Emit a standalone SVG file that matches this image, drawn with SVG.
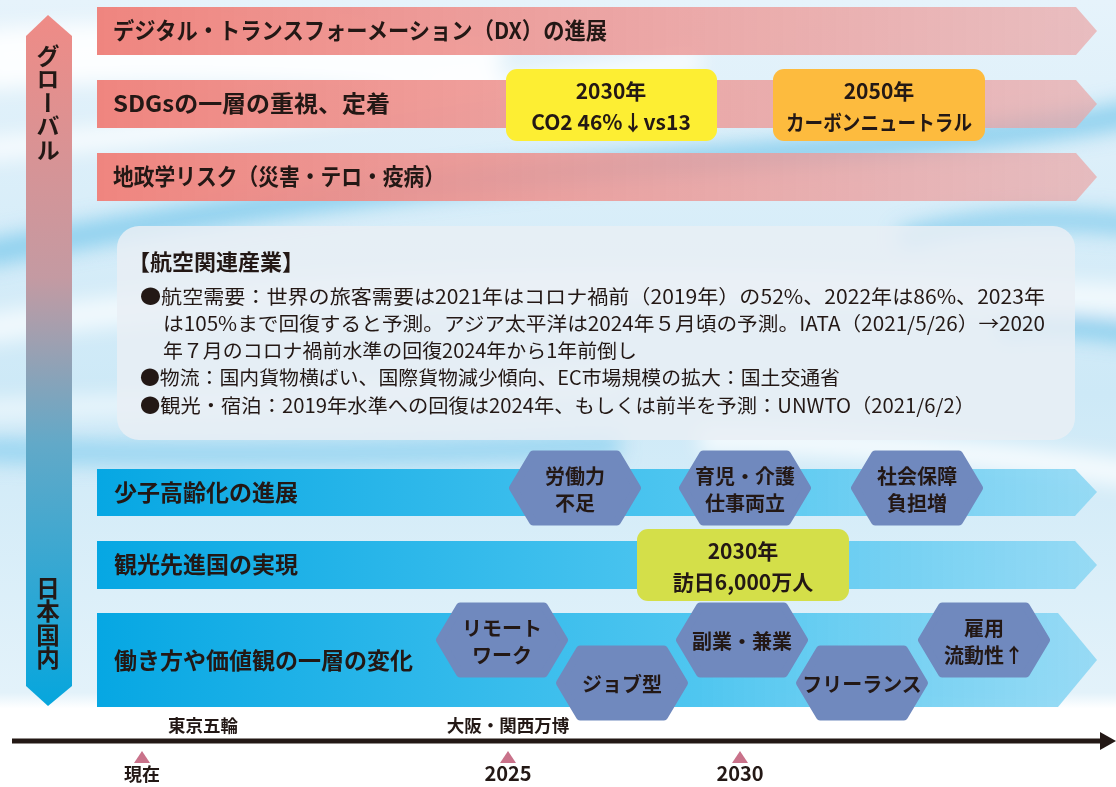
<svg xmlns="http://www.w3.org/2000/svg" width="1116" height="787" viewBox="0 0 1116 787">
<style>
.t{font-family:"Noto Sans CJK JP","Noto Sans",sans-serif;font-weight:bold;fill:#231815}
.row{font-size:23px}
.hx{font-size:20px;text-anchor:middle;dominant-baseline:central}
.bx{font-size:21px;text-anchor:middle;dominant-baseline:central}
.info{font-family:"Noto Sans CJK JP","Noto Sans",sans-serif;font-size:19.5px;fill:#231815}
.hex{fill:#7089be;stroke:#7089be;stroke-width:8;stroke-linejoin:round}
.tri{fill:#c9728a}
.vt{writing-mode:vertical-rl;text-orientation:upright;font-size:23.5px;text-anchor:start}
</style>
<defs>
<linearGradient id="pink" x1="0" x2="1" y1="0" y2="0">
<stop offset="0" stop-color="#ef857f"/>
<stop offset="1" stop-color="#eaa6a6" stop-opacity="0.7"/>
</linearGradient>
<linearGradient id="blue" x1="0" x2="1" y1="0" y2="0">
<stop offset="0" stop-color="#06a7e3"/>
<stop offset="0.6" stop-color="#4fc6f0"/>
<stop offset="1" stop-color="#8ad6f3" stop-opacity="0.85"/>
</linearGradient>
<linearGradient id="vert" x1="0" x2="0" y1="0" y2="1">
<stop offset="0" stop-color="#ef8b86"/>
<stop offset="0.38" stop-color="#c49aa2"/>
<stop offset="0.62" stop-color="#62a9c8"/>
<stop offset="1" stop-color="#06a6dd"/>
</linearGradient>
<linearGradient id="bg" x1="0" x2="0" y1="0" y2="1">
<stop offset="0" stop-color="#e6f3fb"/>
<stop offset="0.5" stop-color="#cde9f7"/>
<stop offset="0.88" stop-color="#e3f2fa"/>
<stop offset="0.9" stop-color="#ffffff"/>
<stop offset="1" stop-color="#ffffff"/>
</linearGradient>
<filter id="blur" x="-20%" y="-50%" width="140%" height="200%"><feGaussianBlur stdDeviation="10"/></filter>
<polygon id="hexp" points="-62,0 -42,-33.5 42,-33.5 62,0 42,33.5 -42,33.5"/>
</defs>

<g id="background">
<rect width="1116" height="787" fill="url(#bg)"/>
<g filter="url(#blur)" fill="none">
<path d="M-20,255 Q300,190 700,160 T1140,110" stroke="#6cc3ea" stroke-width="26" opacity="0.7"/>
<path d="M-20,60 Q200,40 500,70" stroke="#ffffff" stroke-width="60" opacity="0.9"/>
<path d="M-20,150 Q300,120 700,60" stroke="#ffffff" stroke-width="22" opacity="0.8"/>
<path d="M-20,330 Q400,260 1140,300" stroke="#ffffff" stroke-width="30" opacity="0.7"/>
<path d="M900,240 Q1000,210 1140,225" stroke="#6cc3ea" stroke-width="20" opacity="0.7"/>
<path d="M1000,330 Q1060,320 1140,335" stroke="#6cc3ea" stroke-width="18" opacity="0.8"/>
<path d="M-20,450 Q300,460 620,445" stroke="#7ccbee" stroke-width="22" opacity="0.7"/>
<path d="M700,440 Q900,440 1140,475" stroke="#ffffff" stroke-width="26" opacity="0.8"/>
<path d="M-20,410 Q300,400 620,380" stroke="#ffffff" stroke-width="20" opacity="0.6"/>
</g>
<rect x="0" y="708" width="1116" height="79" fill="#ffffff"/>
</g>

<g id="axis-global-domestic">
<polygon points="48,15 72,36 72,686 48,706 26,686 26,36" fill="url(#vert)"/>
<text class="t vt" x="48" y="44">グローバル</text>
<text class="t vt" x="48" y="576">日本国内</text>
</g>

<g id="row-dx">
<polygon points="97,7 1076,7 1097,31 1076,55 97,55" fill="url(#pink)"/>
<text class="t row" x="113" y="39" textLength="494" lengthAdjust="spacingAndGlyphs">デジタル・トランスフォーメーション（DX）の進展</text>
</g>
<g id="row-sdgs">
<polygon points="97,80 1076,80 1097,104 1076,128 97,128" fill="url(#pink)"/>
<text class="t row" x="113" y="112" textLength="277" lengthAdjust="spacingAndGlyphs">SDGsの一層の重視、定着</text>
</g>
<g id="row-geo">
<polygon points="97,153 1076,153 1097,177 1076,201 97,201" fill="url(#pink)"/>
<text class="t row" x="113" y="185" textLength="332" lengthAdjust="spacingAndGlyphs">地政学リスク（災害・テロ・疫病）</text>
</g>

<g id="box-co2">
<rect x="506" y="69" width="211" height="72" rx="11" fill="#fdee33"/>
<text class="t bx" x="611" y="90">2030年</text>
<text class="t bx" x="611" y="121">CO2 46%↓vs13</text>
</g>
<g id="box-carbon">
<rect x="773" y="69" width="212" height="72" rx="11" fill="#fdbb3e"/>
<text class="t bx" x="879" y="90">2050年</text>
<text class="t bx" x="879" y="121" textLength="186" lengthAdjust="spacingAndGlyphs">カーボンニュートラル</text>
</g>

<g id="info-aviation">
<rect x="117" y="226" width="958" height="214" rx="22" fill="#e9eff4" fill-opacity="0.85"/>
<text class="t" x="128" y="270" font-size="22">【航空関連産業】</text>
<text class="info" x="140" y="304" textLength="905" lengthAdjust="spacingAndGlyphs">●航空需要：世界の旅客需要は2021年はコロナ禍前（2019年）の52%、2022年は86%、2023年</text>
<text class="info" x="163" y="331" textLength="882" lengthAdjust="spacingAndGlyphs">は105%まで回復すると予測。アジア太平洋は2024年５月頃の予測。IATA（2021/5/26）→2020</text>
<text class="info" x="163" y="358" textLength="474" lengthAdjust="spacingAndGlyphs">年７月のコロナ禍前水準の回復2024年から1年前倒し</text>
<text class="info" x="140" y="385" textLength="700" lengthAdjust="spacingAndGlyphs">●物流：国内貨物横ばい、国際貨物減少傾向、EC市場規模の拡大：国土交通省</text>
<text class="info" x="140" y="413" textLength="835" lengthAdjust="spacingAndGlyphs">●観光・宿泊：2019年水準への回復は2024年、もしくは前半を予測：UNWTO（2021/6/2）</text>
</g>

<g id="row-aging">
<polygon points="97,469 1075,469 1097,492 1075,516 97,516" fill="url(#blue)"/>
<text class="t row" x="114" y="501">少子高齢化の進展</text>
</g>
<g id="row-tourism">
<polygon points="97,541 1075,541 1097,565 1075,589 97,589" fill="url(#blue)"/>
<text class="t row" x="114" y="573">観光先進国の実現</text>
</g>
<g id="row-work">
<polygon points="97,613 1058,613 1097,660 1058,707 97,707" fill="url(#blue)"/>
<text class="t row" x="114" y="669">働き方や価値観の一層の変化</text>
</g>

<g id="hex-labor">
<use href="#hexp" class="hex" x="575" y="488"/>
<text class="t hx" x="575" y="475">労働力</text>
<text class="t hx" x="575" y="502">不足</text>
</g>
<g id="hex-childcare">
<use href="#hexp" class="hex" x="745" y="488"/>
<text class="t hx" x="745" y="475">育児・介護</text>
<text class="t hx" x="745" y="502">仕事両立</text>
</g>
<g id="hex-social">
<use href="#hexp" class="hex" x="917" y="488"/>
<text class="t hx" x="917" y="475">社会保障</text>
<text class="t hx" x="917" y="502">負担増</text>
</g>

<g id="box-visitors">
<rect x="637" y="529" width="212" height="72" rx="11" fill="#d4df49"/>
<text class="t bx" x="743" y="550">2030年</text>
<text class="t bx" x="743" y="581">訪日6,000万人</text>
</g>

<g id="hex-remote">
<use href="#hexp" class="hex" x="502" y="640"/>
<text class="t hx" x="502" y="627">リモート</text>
<text class="t hx" x="502" y="654">ワーク</text>
</g>
<g id="hex-job">
<use href="#hexp" class="hex" x="622" y="683"/>
<text class="t hx" x="622" y="683">ジョブ型</text>
</g>
<g id="hex-side">
<use href="#hexp" class="hex" x="742" y="640"/>
<text class="t hx" x="742" y="640">副業・兼業</text>
</g>
<g id="hex-freelance">
<use href="#hexp" class="hex" x="862" y="683"/>
<text class="t hx" x="862" y="683">フリーランス</text>
</g>
<g id="hex-employment">
<use href="#hexp" class="hex" x="984" y="640"/>
<text class="t hx" x="984" y="627">雇用</text>
<text class="t hx" x="984" y="654">流動性↑</text>
</g>

<g id="timeline">
<line x1="12" y1="741" x2="1104" y2="741" stroke="#231815" stroke-width="5"/>
<polygon points="1100,732 1116,741 1100,750" fill="#231815"/>
<polygon class="tri" points="142,751 150,763 134,763"/>
<polygon class="tri" points="508,751 516,763 500,763"/>
<polygon class="tri" points="740,751 748,763 732,763"/>
<text class="t" x="203" y="732" font-size="17.5" text-anchor="middle">東京五輪</text>
<text class="t" x="508" y="732" font-size="17.5" text-anchor="middle">大阪・関西万博</text>
<text class="t" x="142" y="781" font-size="18" text-anchor="middle">現在</text>
<text class="t" x="508" y="781" font-size="20" text-anchor="middle">2025</text>
<text class="t" x="740" y="781" font-size="20" text-anchor="middle">2030</text>
</g>
</svg>
